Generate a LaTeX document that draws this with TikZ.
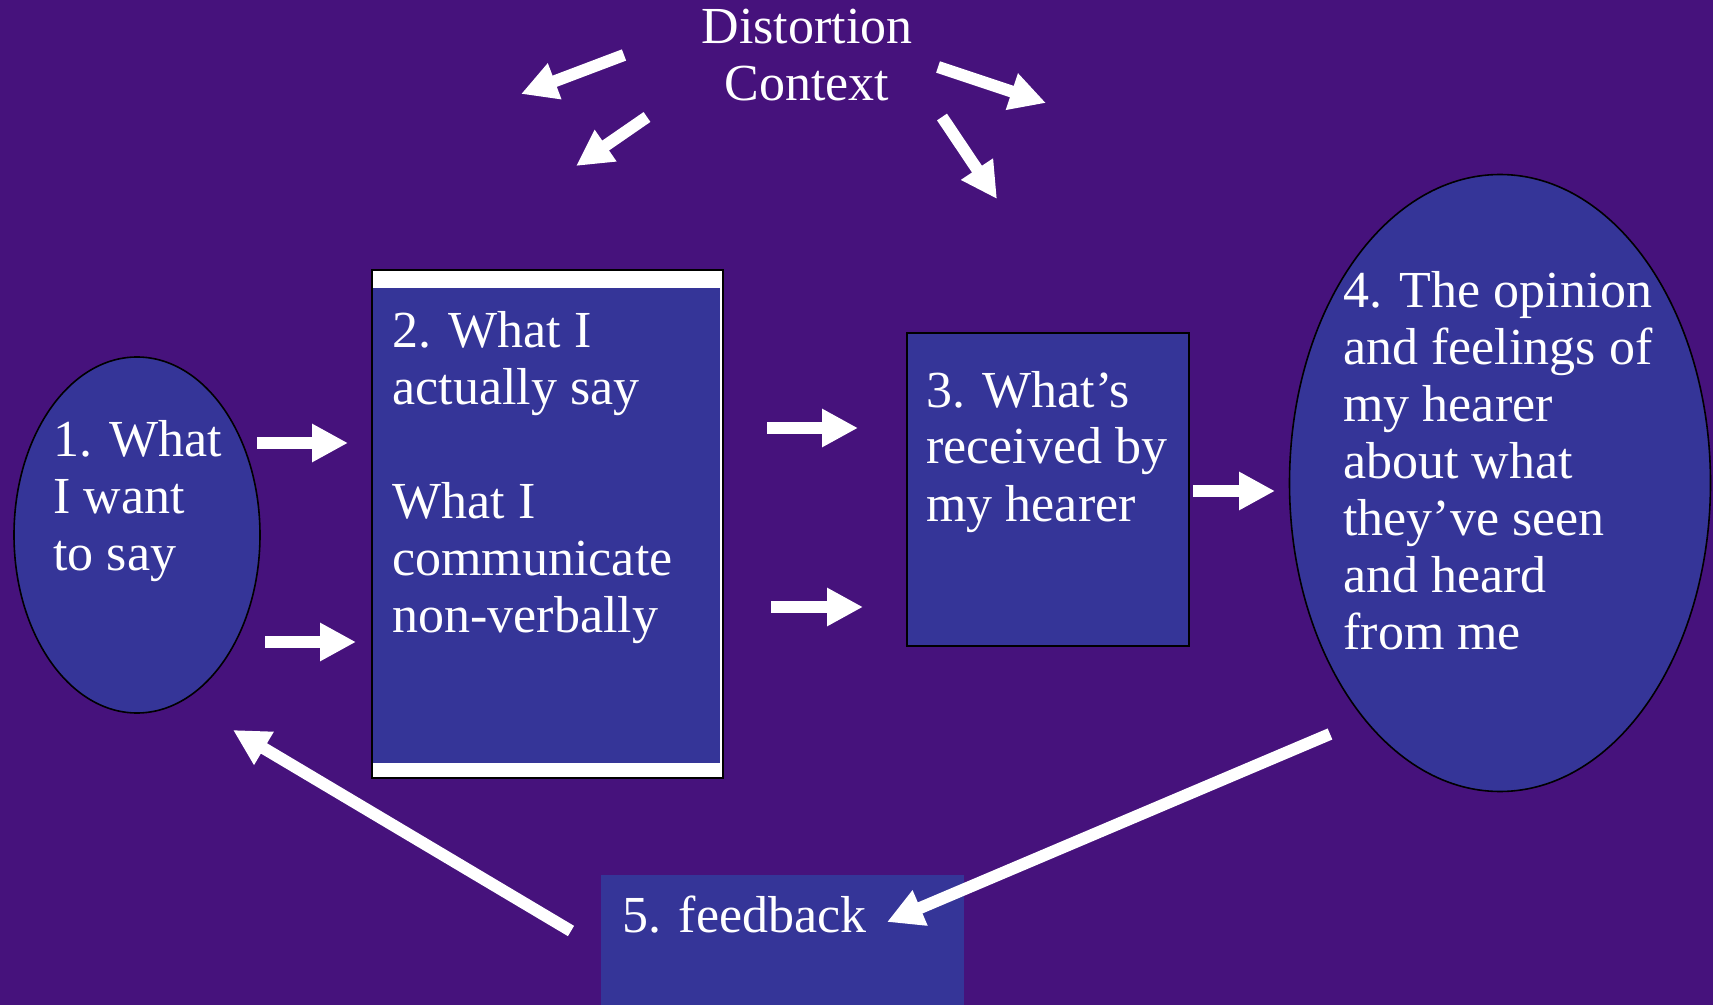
\documentclass[tikz,border=0pt]{standalone}
\usepackage{fontspec}
\setmainfont{Liberation Serif}
\usetikzlibrary{shapes.geometric,arrows.meta}
\definecolor{bgpurple}{RGB}{70,18,124}
\definecolor{boxblue}{RGB}{53,53,152}
\begin{document}
\begin{tikzpicture}
      [x=0.5pt, y=-0.5pt,
      blob/.style={ellipse, draw=black, fill=boxblue, line width=0.8pt, inner sep=0pt},
      panel/.style={rectangle, draw=black, fill=boxblue, line width=0.8pt, inner sep=0pt},
      words/.style={text=white, font=\fontsize{26}{28.5}\selectfont, align=left, inner sep=0pt, anchor=base west},
      push/.style={white, line width=6pt, -{Triangle[width=18pt,length=18pt]}},
      ]
      \fill[bgpurple] (0,0) rectangle (1713,1005);
      \clip (0,0) rectangle (1713,1005);

      \node[blob, minimum width=123pt, minimum height=178pt] (want) at (137,535) {};
      \node[panel, fill=white, minimum width=175.5pt, minimum height=254pt] (say) at (547.5,524) {};
      \fill[boxblue] (372.5,288) rectangle (720,763);
      \node[panel, minimum width=141pt, minimum height=156.5pt] (heard) at (1048,489.5) {};
      \node[blob, minimum width=210.5pt, minimum height=308.5pt] (opinion) at (1500,483) {};
      \node[panel, draw=none, minimum width=181.5pt, minimum height=65pt] (feedback) at (782.5,940) {};

      % multi-line texts sit on the baseline of their last line
      \node[words] (T1) at (53,570) {1. What\\I want\\to say};
      \node[words] (T2) at (392,632) {2. What I\\actually say\\[28.5pt]What I\\communicate\\non-verbally};
      \node[words] (T3) at (926,521) {3. What’s\\received by\\my hearer};
      \node[words] (T4) at (1343,649) {4. The opinion\\and feelings of\\my hearer\\about what\\they’ve seen\\and heard\\from me};
      \node[words] (T5) at (622,932) {5. feedback};
      \node[words, align=center, anchor=base] (T6) at (807,101) {Distortion\\Context};

      \coordinate (A1) at (257,443);  \coordinate (B1) at (348,443);
      \coordinate (A2) at (265,642);  \coordinate (B2) at (356,642);
      \coordinate (A3) at (767,428);  \coordinate (B3) at (858,428);
      \coordinate (A4) at (771,607);  \coordinate (B4) at (863,607);
      \coordinate (A5) at (1193,491); \coordinate (B5) at (1275,491);
      \coordinate (A6) at (1330,734); \coordinate (B6) at (887,922);
      \coordinate (A7) at (571,931);  \coordinate (B7) at (233,730);
      \coordinate (A8) at (624,55);   \coordinate (B8) at (521,94);
      \coordinate (A9) at (647,117);  \coordinate (B9) at (576,166);
      \coordinate (A10) at (938,67);  \coordinate (B10) at (1046,103);
      \coordinate (A11) at (942,117); \coordinate (B11) at (997,199);

      \foreach \i in {1,...,11}
        \draw[push] (A\i) -- (B\i);
    \end{tikzpicture}
\end{document}
